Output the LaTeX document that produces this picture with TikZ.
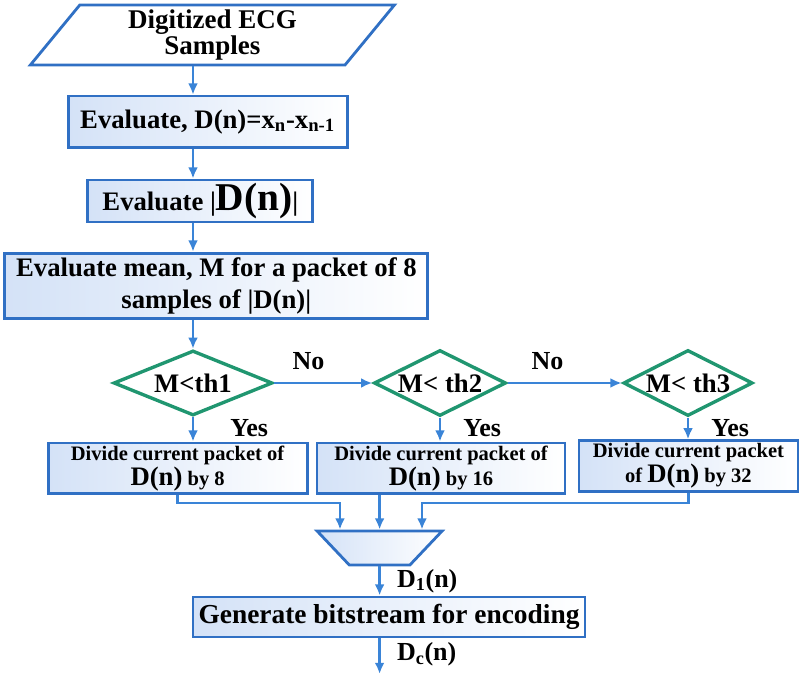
\documentclass[tikz,border=0pt]{standalone}
\usepackage{fontspec}
\setmainfont{Liberation Serif}[BoldFont={Liberation Serif Bold}]
\usetikzlibrary{shapes.geometric,arrows.meta}

\definecolor{lineblue}{RGB}{58,132,215}
\definecolor{boxblue}{RGB}{48,112,196}
\definecolor{boxfill}{RGB}{212,226,247}
\definecolor{decgreen}{RGB}{32,150,112}

\newcommand{\bigsz}[1]{\fontsize{#1}{#1}\selectfont}

\begin{document}
\begin{tikzpicture}[line width=1.5pt,
procblock/.style={draw=boxblue,rectangle,inner sep=2pt,line width=2pt,left color=boxfill,right color=white,align=center,font=\rmfamily\bfseries\fontsize{19}{22.8}\selectfont},
divblock/.style={procblock,font=\rmfamily\bfseries\fontsize{14.6}{17.8}\selectfont},
ioblock/.style={draw=boxblue,trapezium,trapezium left angle=61,trapezium right angle=119,trapezium stretches=true,line width=2pt,fill=white,align=center,font=\rmfamily\bfseries\fontsize{19.2}{18.5}\selectfont},
muxblock/.style={draw=boxblue,trapezium,trapezium left angle=118,trapezium right angle=118,trapezium stretches=true,line width=2pt,left color=boxfill,right color=white,minimum width=3.125cm,minimum height=0.85cm},
decision/.style={diamond,draw=decgreen,line width=2.4pt,aspect=2.4,inner sep=0pt,fill=white,font=\rmfamily\bfseries\fontsize{19}{20}\selectfont},
flow/.style={draw=lineblue,line width=2pt,-{Latex[length=8pt,width=7pt]}},
lbl/.style={font=\rmfamily\bfseries\fontsize{18.5}{20}\selectfont,inner sep=0pt}]

\useasboundingbox (0,0) rectangle (19.975,-16.9);

\draw (5.31,-0.875) node[ioblock,minimum width=9.125cm,minimum height=1.5cm] (in) {Digitized ECG\\Samples};
\draw (5.19,-3.04) node[procblock,minimum width=6.975cm,minimum height=1.275cm] (box1) {Evaluate, D(n)=x\textsubscript{n}-x\textsubscript{n-1}};
\draw (5.01,-5.025) node[procblock,minimum width=5.625cm,minimum height=1.05cm] (box2) {Evaluate |{\bigsz{28}D(n)}|};
\draw (5.41,-7.14) node[procblock,minimum width=10.575cm,minimum height=1.625cm] (box3) {Evaluate mean, M for a packet of 8\\samples of |D(n)|};

\draw (4.825,-9.575) node[decision,minimum width=3.975cm,minimum height=1.625cm] (c1) {M<th1};
\draw (11.0,-9.575) node[decision,minimum width=3.3cm,minimum height=1.65cm] (c2) {M< th2};
\draw (17.2,-9.575) node[decision,minimum width=3.125cm,minimum height=1.65cm] (c3) {M< th3};

\draw (4.44,-11.71) node[divblock,minimum width=6.475cm,minimum height=1.225cm] (d1) {Divide current packet of\\{\bigsz{19}D(n)} by 8};
\draw (11.025,-11.71) node[divblock,minimum width=6.2cm,minimum height=1.225cm] (d2) {Divide current packet of\\{\bigsz{19}D(n)} by 16};
\draw (17.21,-11.65) node[divblock,minimum width=5.475cm,minimum height=1.2cm] (d3) {Divide current packet\\of {\bigsz{19}D(n)} by 32};

\draw (9.49,-13.7) node[muxblock] (mux) {};
\draw (9.725,-15.425) node[procblock,minimum width=9.8cm,minimum height=1.0cm,font=\rmfamily\bfseries\fontsize{19.5}{22}\selectfont] (gen) {Generate bitstream for encoding};

\coordinate (j1) at (8.5,-12.575);
\coordinate (j3) at (10.55,-12.575);
\coordinate (outp) at (9.49,-16.85);

% main column
\draw[flow] (c1 |- in.south) -- (c1 |- box1.north);
\draw[flow] (c1 |- box1.south) -- (c1 |- box2.north);
\draw[flow] (c1 |- box2.south) -- (c1 |- box3.north);
\draw[flow] (c1 |- box3.south) -- (c1.north);

% decisions
\draw[flow] (c1.east) -- (c2.west) node[lbl,pos=0.35,above=0.3cm] {No};
\draw[flow] (c2.east) -- (c3.west) node[lbl,pos=0.35,above=0.3cm] {No};
\draw[flow] (c1.south) node[lbl,anchor=west,xshift=0.9cm,yshift=-0.27cm] {Yes} -- (c1 |- d1.north);
\draw[flow] (c2.south) node[lbl,anchor=west,xshift=0.55cm,yshift=-0.27cm] {Yes} -- (c2 |- d2.north);
\draw[flow] (c3.south) node[lbl,anchor=west,xshift=0.55cm,yshift=-0.27cm] {Yes} -- (c3 |- d3.north);

% merge
\draw[flow] (d1.south) |- (j1) -- (j1 |- mux.north);
\draw[flow] (mux |- d2.south) -- (mux.north);
\draw[flow] (d3.south) |- (j3) -- (j3 |- mux.north);

\draw[flow] (mux.south) -- (mux |- gen.north) node[lbl,pos=0.5,right=0.4cm] {D\textsubscript{1}(n)};
\draw[flow] (mux |- gen.south) -- (outp) node[lbl,pos=0.45,right=0.4cm] {D\textsubscript{c}(n)};
\end{tikzpicture}
\end{document}
